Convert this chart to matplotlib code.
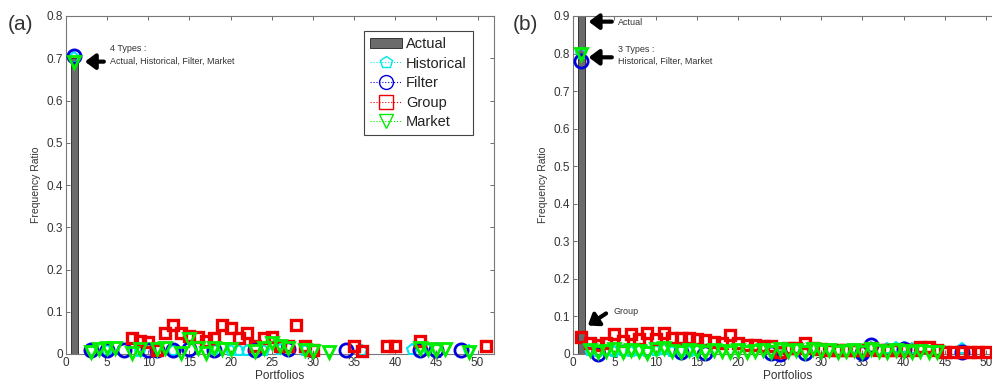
import matplotlib
matplotlib.use("Agg")
import matplotlib.pyplot as plt
from matplotlib.lines import Line2D
from matplotlib.patches import Patch

plt.rcParams['font.family'] = ['Liberation Sans', 'DejaVu Sans']

# ---------------- data, panel (a) ----------------
actual_a_x = [1]
actual_a_y = [0.70]

hist_a_x = [1, 3, 5, 9, 13, 18, 20, 21, 22, 24, 26, 29, 36, 42, 44, 49]
hist_a_y = [0.70, 0.008, 0.008, 0.005, 0.008, 0.01, 0.008, 0.008, 0.008, 0.008, 0.01, 0.008, 0.006, 0.01, 0.01, 0.008]

filt_a_x = [1, 3, 5, 7, 10, 11, 13, 15, 18, 23, 27, 34, 43, 45, 48]
filt_a_y = [0.705, 0.01, 0.01, 0.01, 0.01, 0.01, 0.01, 0.012, 0.01, 0.01, 0.012, 0.01, 0.01, 0.01, 0.01]

group_a_x = [8, 9, 10, 11, 12, 13, 14, 15, 16, 17, 18, 19, 20, 21, 22, 23, 24, 25, 26, 27,
             28, 29, 30, 35, 36, 39, 40, 43, 51]
group_a_y = [0.037, 0.03, 0.028, 0.01, 0.049, 0.069, 0.049, 0.042, 0.04, 0.03, 0.037, 0.069,
             0.061, 0.037, 0.049, 0.02, 0.037, 0.04, 0.02, 0.018, 0.069, 0.018, 0.01, 0.018,
             0.006, 0.018, 0.018, 0.03, 0.018]

mkt_a_x = [1, 3, 4, 5, 6, 8, 9, 11, 12, 14, 15, 16, 17, 18, 19, 20, 23, 24, 25, 26, 27, 29,
           30, 32, 43, 44, 45, 46, 49]
mkt_a_y = [0.69, 0.005, 0.012, 0.015, 0.015, 0.003, 0.012, 0.012, 0.015, 0.003, 0.035, 0.015,
           0.003, 0.015, 0.012, 0.012, 0.008, 0.015, 0.025, 0.02, 0.015, 0.01, 0.008, 0.005,
           0.015, 0.012, 0.01, 0.012, 0.005]

# ---------------- data, panel (b) ----------------
actual_b_x = [1]
actual_b_y = [0.90]

hist_b_x = [1, 2, 3, 4, 5, 6, 7, 8, 9, 10, 11, 12, 13, 14, 15, 36, 38, 39, 40, 41, 42, 47]
hist_b_y = [0.80, 0.008, 0.006, 0.008, 0.006, 0.008, 0.006, 0.008, 0.006, 0.008, 0.01, 0.006,
            0.008, 0.006, 0.008, 0.015, 0.012, 0.015, 0.015, 0.012, 0.015, 0.012]

filt_b_x = [1, 3, 13, 16, 24, 25, 28, 35, 36, 40, 47]
filt_b_y = [0.78, 0.001, 0.005, 0.003, 0.003, 0.001, 0.003, 0.002, 0.025, 0.012, 0.005]

group_b_x = list(range(1, 51))
group_b_y = [0.046, 0.03, 0.025, 0.03, 0.053, 0.035, 0.053, 0.04, 0.055, 0.04,
             0.055, 0.043, 0.043, 0.043, 0.04, 0.038, 0.033, 0.03, 0.051, 0.028,
             0.025, 0.025, 0.022, 0.02, 0.005, 0.015, 0.015, 0.028, 0.015, 0.012,
             0.01, 0.01, 0.01, 0.01, 0.01, 0.015, 0.01, 0.01, 0.01, 0.01,
             0.01, 0.018, 0.018, 0.01, 0.004, 0.004, 0.004, 0.004, 0.004, 0.004]

mkt_b_x = list(range(1, 45))
mkt_b_y = [0.80, 0.01, 0.005, 0.008, 0.012, 0.005, 0.01, 0.008, 0.003, 0.012,
           0.015, 0.008, 0.005, 0.01, 0.008, 0.005, 0.01, 0.008, 0.005, 0.01,
           0.005, 0.008, 0.01, 0.005, 0.012, 0.008, 0.01, 0.005, 0.012, 0.008,
           0.01, 0.005, 0.008, 0.01, 0.005, 0.012, 0.008, 0.005, 0.01, 0.008,
           0.005, 0.008, 0.005, 0.005]

xticks = list(range(0, 55, 5))

c_hist = '#00e5ee'
c_filt = '#0000dd'
c_group = '#ee0000'
c_mkt = '#00ee00'
c_bar = '#6b6b6b'
c_txt = '#333333'

fig = plt.figure(figsize=(9.92, 3.89), dpi=100)
W, H = 992.0, 389.0
ax_a = fig.add_axes([66 / W, (389 - 354) / H, 428 / W, 338 / H])
ax_b = fig.add_axes([573 / W, (389 - 354) / H, 430 / W, 338 / H])


def draw(ax, ymax, yticks, ytl, actual, hist, filt, group, mkt):
    ax.bar(actual[0], actual[1], width=0.8, color=c_bar, edgecolor='#222222', lw=0.6, zorder=2)
    kw = dict(ls='none', mfc='none', clip_on=False, zorder=3)
    ax.plot(hist[0], hist[1], marker='p', ms=8, mec=c_hist, mew=1.5, **kw)
    ax.plot(filt[0], filt[1], marker='o', ms=9.5, mec=c_filt, mew=2.0, **kw)
    ax.plot(group[0], group[1], marker='s', ms=7, mec=c_group, mew=2.4, **kw)
    ax.plot(mkt[0], mkt[1], marker='v', ms=8.5, mec=c_mkt, mew=2.0, **kw)
    ax.set_xlim(0, 52)
    ax.set_ylim(0, ymax)
    ax.set_xticks(xticks)
    ax.set_xticklabels([str(t) for t in xticks])
    ax.set_yticks(yticks)
    ax.set_yticklabels(ytl)
    ax.tick_params(direction='in', top=True, right=True, length=3, width=0.6,
                   labelsize=8.5, colors='#555555', pad=2)
    ax.tick_params(axis='both', labelcolor=c_txt)
    for s in ax.spines.values():
        s.set_color('#777777')
        s.set_linewidth(0.8)
    ax.set_xlabel('Portfolios', fontsize=8.5, color=c_txt, labelpad=1)
    ax.set_ylabel('Frequency Ratio', fontsize=7.5, color=c_txt, labelpad=4)


yt_a = [0, 0.1, 0.2, 0.3, 0.4, 0.5, 0.6, 0.7, 0.8]
draw(ax_a, 0.8, yt_a, ['0'] + [f'{v:g}' for v in yt_a[1:]],
     (actual_a_x, actual_a_y), (hist_a_x, hist_a_y), (filt_a_x, filt_a_y),
     (group_a_x, group_a_y), (mkt_a_x, mkt_a_y))
yt_b = [0, 0.1, 0.2, 0.3, 0.4, 0.5, 0.6, 0.7, 0.8, 0.9]
draw(ax_b, 0.9, yt_b, ['0'] + [f'{v:g}' for v in yt_b[1:]],
     (actual_b_x, actual_b_y), (hist_b_x, hist_b_y), (filt_b_x, filt_b_y),
     (group_b_x, group_b_y), (mkt_b_x, mkt_b_y))

# panel letters
fig.text(8 / W, 1 - 24 / H, '(a)', fontsize=15, color=c_txt, va='center')
fig.text(513 / W, 1 - 24 / H, '(b)', fontsize=15, color=c_txt, va='center')

arrow = dict(arrowstyle='-|>,head_width=0.45,head_length=0.6', color='black', lw=3.0,
             shrinkA=0, shrinkB=0)

# annotations (a)
ax_a.annotate('', xy=(2.3, 0.692), xytext=(4.6, 0.692), arrowprops=arrow)
ax_a.text(5.4, 0.722, '4 Types :', fontsize=6.5, color=c_txt, va='center')
ax_a.text(5.4, 0.692, 'Actual, Historical, Filter, Market', fontsize=6.5, color=c_txt, va='center')

# annotations (b)
ax_b.annotate('', xy=(1.9, 0.885), xytext=(4.7, 0.885), arrowprops=arrow)
ax_b.text(5.5, 0.883, 'Actual', fontsize=6.5, color=c_txt, va='center')
ax_b.annotate('', xy=(1.9, 0.79), xytext=(4.7, 0.79), arrowprops=arrow)
ax_b.text(5.5, 0.812, '3 Types :', fontsize=6.5, color=c_txt, va='center')
ax_b.text(5.5, 0.78, 'Historical, Filter, Market', fontsize=6.5, color=c_txt, va='center')
ax_b.annotate('', xy=(1.8, 0.076), xytext=(4.0, 0.108), arrowprops=arrow)
ax_b.text(4.9, 0.112, 'Group', fontsize=6.5, color=c_txt, va='center')

# legend (a)
handles = [
    Patch(facecolor=c_bar, edgecolor='#222222', lw=0.6),
    Line2D([], [], ls=':', lw=0.8, color=c_hist, marker='p', ms=9, mfc='none', mec=c_hist, mew=1.0),
    Line2D([], [], ls=':', lw=0.8, color=c_filt, marker='o', ms=10, mfc='none', mec=c_filt, mew=1.0),
    Line2D([], [], ls=':', lw=0.8, color=c_group, marker='s', ms=10, mfc='none', mec=c_group, mew=1.0),
    Line2D([], [], ls=':', lw=0.8, color=c_mkt, marker='v', ms=10, mfc='none', mec=c_mkt, mew=1.0),
]
leg = ax_a.legend(handles, ['Actual', 'Historical', 'Filter', 'Group', 'Market'],
                  loc='upper right', bbox_to_anchor=(0.95, 0.955), fontsize=10.5,
                  fancybox=False, framealpha=1, edgecolor='#444444',
                  handlelength=2.2, handletextpad=0.3, borderpad=0.4,
                  labelspacing=0.38, borderaxespad=0)
leg.get_frame().set_linewidth(0.8)
for t in leg.get_texts():
    t.set_color('#222222')

fig.savefig('out.png', dpi=100)
